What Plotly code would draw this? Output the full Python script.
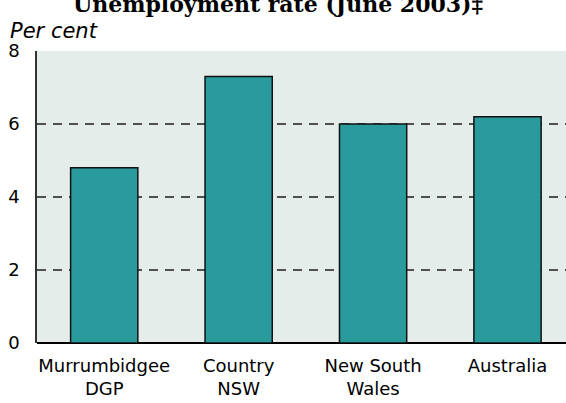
import plotly.graph_objects as go

categories = ["Murrumbidgee<br>DGP", "Country<br>NSW", "New South<br>Wales", "Australia"]
values = [4.8, 7.3, 6.0, 6.2]
y_ticks = [0, 2, 4, 6, 8]

L, T, B = 37, 51, 60
plot_h = 403 - T - B

fig = go.Figure()
fig.add_trace(go.Bar(
    x=list(range(len(categories))), y=values, width=0.5,
    marker=dict(color="#299b9c", line=dict(color="#111111", width=1.5)),
))

fig.update_layout(
    width=566, height=403,
    margin=dict(l=L, r=0, t=T, b=B, autoexpand=False),
    paper_bgcolor="white", plot_bgcolor="#e4ede9",
    showlegend=False,
    font=dict(family="DejaVu Sans", size=18, color="black"),
    annotations=[
        dict(text="<b>Unemployment rate (June 2003)‡</b>", xref="paper", yref="paper",
             x=0.4556, y=(403 - B - 19) / plot_h, xanchor="center", yanchor="bottom",
             showarrow=False, font=dict(family="DejaVu Serif", size=22, color="black")),
        dict(text="<i>Per cent</i>", xref="paper", yref="paper", x=-0.055, y=1.02,
             xanchor="left", yanchor="bottom", showarrow=False,
             font=dict(family="DejaVu Sans", size=21, color="black")),
    ],
)
fig.update_xaxes(
    range=[-0.5, 3.435], tickmode="array", tickvals=list(range(len(categories))),
    ticktext=categories, showgrid=False, zeroline=False, showline=False, ticks="",
    tickfont=dict(size=18), automargin=False, ticklabelstandoff=10,
)
fig.update_yaxes(
    range=[0, 8], tickmode="array", tickvals=y_ticks, automargin=False,
    showgrid=True, gridcolor="#505050", gridwidth=1.5, griddash="9px,7px",
    zeroline=True, zerolinecolor="black", zerolinewidth=2,
    showline=True, linecolor="#333333", linewidth=1.5, ticks="", ticklabelstandoff=12,
)
fig.write_html(
    "out.html",
    config={"displayModeBar": False},
    post_script="document.body.style.margin='0';document.body.style.overflow='hidden';",
)
